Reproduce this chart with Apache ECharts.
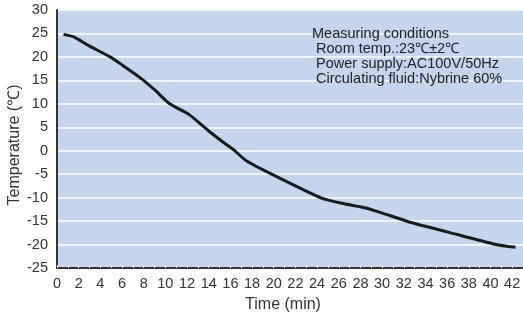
<!DOCTYPE html>
<html lang="en">
<head>
    <meta charset="UTF-8">
    <title>Cooling curve</title>
    <script type="text/javascript" src="https://cdn.jsdelivr.net/npm/echarts@6.0.0/dist/echarts.min.js"></script>
    <style type="text/css">
        html, body { margin: 0; padding: 0; height: 100%; width: 100%; background: #fff; }
        #echarts { height: 315px; width: 523px; }
    </style>
</head>
<body>
<div id="echarts"></div>
<script type="text/javascript">
    // time (min) and temperature (°C)
    var times = [0.6, 1.5, 3, 4.9, 6, 7.6, 9, 10.4, 12.2, 14, 15.4, 16.3, 17.5, 20.5, 24.4, 26.5, 28.5, 30.7, 32.5, 36, 40.5, 42.3];
    var temps = [24.8, 24.3, 22.3, 20, 18.3, 15.7, 13, 10, 7.7, 4.2, 1.7, 0.2, -2.2, -5.8, -10.1, -11.3, -12.2, -13.8, -15.2, -17.3, -20, -20.6];
    var notes = [
        'Measuring conditions',
        ' Room temp.:23\u2103\u00b12\u2103',
        ' Power supply:AC100V/50Hz',
        ' Circulating fluid:Nybrine 60%'
    ];

    var font = '"Liberation Sans", Arial, sans-serif';
    var bg = '#c6d5ee';
    var myChart = echarts.init(document.getElementById('echarts'));

    option = {
        animation: false,
        textStyle: { fontFamily: font },
        grid: {
            left: 57, right: 0, top: 10, bottom: 47,
            outerBoundsMode: 'none',
            containLabel: false,
            show: true, backgroundColor: bg, borderWidth: 0
        },
        xAxis: {
            type: 'value',
            min: 0, max: 43, interval: 2,
            name: 'Time (min)',
            nameLocation: 'middle',
            nameGap: 29,
            nameMoveOverlap: false,
            nameTextStyle: { fontSize: 16, color: '#333', fontFamily: font, padding: [0, 14, 0, 0] },
            axisLine: { show: true, onZero: false, lineStyle: { color: '#333', width: 2 } },
            axisTick: { show: true, inside: true, length: 3, lineStyle: { color: '#fff' } },
            minorTick: { show: true, splitNumber: 2, length: 3, lineStyle: { color: '#fff' } },
            splitLine: { show: false },
            axisLabel: { fontSize: 14.5, color: '#333', margin: 8, showMaxLabel: false, fontFamily: font }
        },
        yAxis: {
            type: 'value',
            min: -25, max: 30, interval: 5,
            name: 'Temperature (\u2103)',
            nameLocation: 'middle',
            nameGap: 34,
            nameMoveOverlap: false,
            nameTextStyle: { fontSize: 16, color: '#333', fontFamily: font, padding: [0, 12, 0, 0] },
            axisLine: { show: true, onZero: false, lineStyle: { color: '#333', width: 2 } },
            axisTick: { show: false },
            splitLine: { show: true, lineStyle: { color: '#fff', width: 1.5 } },
            axisLabel: { fontSize: 14.5, color: '#333', margin: 9, fontFamily: font }
        },
        graphic: notes.map(function (t, i) {
            return {
                type: 'text',
                left: 311,
                top: 25 + i * 15,
                z: 100,
                style: {
                    text: t,
                    fill: '#222',
                    font: '14.5px ' + font,
                    stroke: bg,
                    lineWidth: 2
                }
            };
        }),
        series: [{
            type: 'line',
            data: times.map(function (t, i) { return [t, temps[i]]; }),
            smooth: 0.2,
            showSymbol: false,
            lineStyle: { color: '#1a1a1a', width: 3 }
        }]
    };
    myChart.setOption(option);
</script>
</body>
</html>
